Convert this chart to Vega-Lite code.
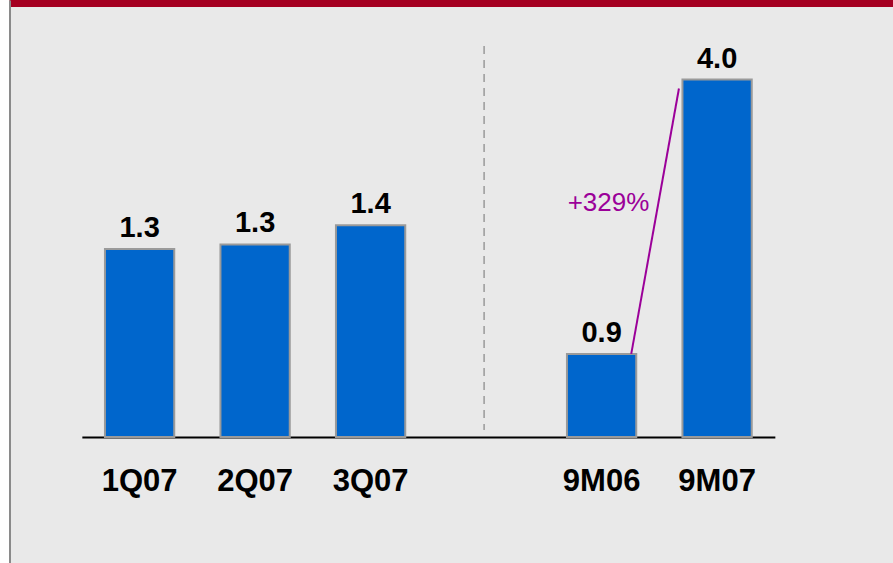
{
  "$schema": "https://vega.github.io/schema/vega-lite/v6.json",
  "width": 883.5,
  "height": 563,
  "autosize": {"type": "none"},
  "padding": {"left": 9.5, "top": 0, "right": 0, "bottom": 0},
  "background": "white",
  "config": {
    "view": {"fill": "#e9e9e9", "stroke": "#a50021", "strokeWidth": 14, "strokeDash": [883.5, 4000], "strokeCap": "butt"},
    "font": "Liberation Sans"
  },
  "datasets": {
    "bars": [
      {"cat": "1Q07", "period": "quarter", "value": 1.27},
      {"cat": "2Q07", "period": "quarter", "value": 1.30},
      {"cat": "3Q07", "period": "quarter", "value": 1.43},
      {"cat": "9M06", "period": "ytd", "value": 0.93},
      {"cat": "9M07", "period": "ytd", "value": 4.00}
    ],
    "note": [
      {"from": "9M06", "to": "9M07", "label": "+329%", "fromValue": 0.93, "toValue": 4.00}
    ]
  },
  "layer": [
    {
      "data": {"name": "bars"},
      "transform": [{"filter": "datum.period == 'quarter'"}],
      "layer": [
        {
          "mark": {"type": "bar", "color": "#0066cc", "stroke": "#9a9a9a", "strokeWidth": 2},
          "encoding": {
            "x": {
              "field": "cat",
              "type": "nominal",
              "scale": {
                "domain": ["1Q07", "2Q07", "3Q07", " ", "9M06", "9M07"],
                "range": [72.35, 765.35],
                "paddingInner": 0.4,
                "paddingOuter": 0.2
              },
              "axis": {
                "orient": "bottom",
                "offset": -126,
                "values": ["1Q07", "2Q07", "3Q07", "9M06", "9M07"],
                "title": null,
                "domain": true,
                "domainColor": "#000000",
                "domainWidth": 2.2,
                "ticks": false,
                "tickSize": 0,
                "labelAngle": 0,
                "labelFont": "Liberation Sans",
                "labelFontSize": 31,
                "labelFontWeight": "bold",
                "labelColor": "#000000",
                "labelPadding": 29,
                "grid": false
              }
            },
            "y": {
              "field": "value",
              "type": "quantitative",
              "scale": {"domain": [-0.85, 2.95], "nice": false, "zero": false},
              "axis": {
                "orient": "left",
                "title": null,
                "domain": true,
                "domainColor": "#8a8a8a",
                "domainWidth": 2,
                "ticks": false,
                "labels": false,
                "grid": false
              }
            },
            "y2": {"datum": 0}
          }
        },
        {
          "mark": {"type": "text", "font": "Liberation Sans", "fontSize": 29, "fontWeight": "bold", "color": "#000000", "baseline": "alphabetic", "align": "center", "dy": -12},
          "encoding": {
            "x": {"field": "cat", "type": "nominal"},
            "y": {"field": "value", "type": "quantitative"},
            "text": {"field": "value", "type": "quantitative", "format": ".1f"}
          }
        }
      ]
    },
    {
      "data": {"name": "bars"},
      "transform": [{"filter": "datum.period == 'ytd'"}],
      "layer": [
        {
          "mark": {"type": "bar", "color": "#0066cc", "stroke": "#9a9a9a", "strokeWidth": 2},
          "encoding": {
            "x": {"field": "cat", "type": "nominal"},
            "y": {
              "field": "value",
              "type": "quantitative",
              "scale": {"domain": [-1.41, 4.89], "nice": false, "zero": false},
              "axis": null
            },
            "y2": {"datum": 0}
          }
        },
        {
          "mark": {"type": "text", "font": "Liberation Sans", "fontSize": 29, "fontWeight": "bold", "color": "#000000", "baseline": "alphabetic", "align": "center", "dy": -12},
          "encoding": {
            "x": {"field": "cat", "type": "nominal"},
            "y": {"field": "value", "type": "quantitative", "axis": null},
            "text": {"field": "value", "type": "quantitative", "format": ".1f"}
          }
        },
        {
          "data": {"name": "note"},
          "mark": {"type": "rule", "color": "#999999", "strokeWidth": 1.5, "strokeDash": [8, 6], "xOffset": -2},
          "encoding": {
            "x": {"datum": " ", "type": "nominal"},
            "y": {"datum": 4.374, "type": "quantitative", "axis": null},
            "y2": {"datum": 0.078}
          }
        },
        {
          "data": {"name": "note"},
          "mark": {"type": "rule", "color": "#9b0099", "strokeWidth": 2, "xOffset": -5, "x2Offset": -3.5, "y2Offset": 9},
          "encoding": {
            "x": {"field": "from", "type": "nominal", "bandPosition": 1},
            "x2": {"field": "to", "bandPosition": 0},
            "y": {"field": "fromValue", "type": "quantitative", "axis": null},
            "y2": {"field": "toValue"}
          }
        },
        {
          "data": {"name": "note"},
          "mark": {"type": "text", "font": "Liberation Sans", "fontSize": 26, "fontWeight": "normal", "color": "#9b0099", "baseline": "alphabetic", "align": "center", "dy": -3},
          "encoding": {
            "x": {"field": "from", "type": "nominal", "bandPosition": 0.6},
            "y": {"datum": 2.5, "type": "quantitative", "axis": null},
            "text": {"field": "label", "type": "nominal"}
          }
        }
      ]
    }
  ],
  "resolve": {"scale": {"y": "independent"}, "axis": {"y": "independent"}}
}
